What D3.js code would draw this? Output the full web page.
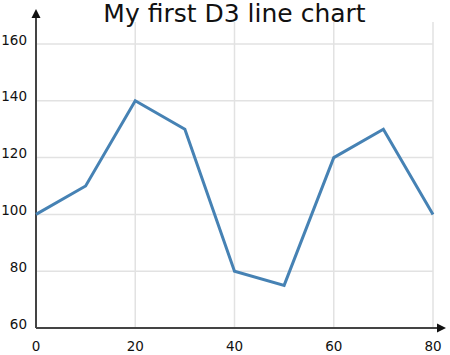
<!DOCTYPE html>
<html><head><meta charset="utf-8">
<script src="https://cdn.jsdelivr.net/npm/d3@7"></script>
<style>body{margin:0;background:#fff}svg{display:block}</style>
</head><body>
<svg id="c" width="450" height="355"></svg>
<script>
const xValues = [0, 10, 20, 30, 40, 50, 60, 70, 80];
const yValues = [100, 110, 140, 130, 80, 75, 120, 130, 100];
const xTicks = [0, 20, 40, 60, 80];
const yTicks = [60, 80, 100, 120, 140, 160];
const title = "My first D3 line chart";

const svg = d3.select("#c");
const x = d3.scaleLinear().domain([0, 80]).range([36, 433]);
const y = d3.scaleLinear().domain([60, 160]).range([328, 44]);
const font = "DejaVu Sans, Verdana, sans-serif";

// grid
svg.append("g").selectAll("line").data(xTicks.filter(d => d > 0)).join("line")
  .attr("x1", d => x(d)).attr("x2", d => x(d)).attr("y1", 22).attr("y2", y(60))
  .attr("stroke", "#e2e2e2").attr("stroke-width", 1.5);
svg.append("g").selectAll("line").data(yTicks.filter(d => d > 60)).join("line")
  .attr("x1", x(0)).attr("x2", x(80)).attr("y1", d => y(d)).attr("y2", d => y(d))
  .attr("stroke", "#e2e2e2").attr("stroke-width", 1.5);

// axes
svg.append("line").attr("x1", x(0)).attr("x2", 440).attr("y1", y(60)).attr("y2", y(60))
  .attr("stroke", "#444").attr("stroke-width", 2);
svg.append("path").attr("d", `M446,${y(60)}L437,${y(60)-4.5}L437,${y(60)+4.5}Z`).attr("fill", "#111");
svg.append("line").attr("x1", x(0)).attr("x2", x(0)).attr("y1", y(60)).attr("y2", 16)
  .attr("stroke", "#444").attr("stroke-width", 2);
svg.append("path").attr("d", `M${x(0)},9L${x(0)-4.5},18L${x(0)+4.5},18Z`).attr("fill", "#111");

// tick labels
svg.append("g").selectAll("text").data(yTicks).join("text")
  .attr("x", 27).attr("y", d => y(d) + 0.5).attr("text-anchor", "end")
  .attr("font-family", font).attr("font-size", 13.5).attr("fill", "#111").text(d => d);
svg.append("g").selectAll("text").data(xTicks).join("text")
  .attr("x", d => x(d)).attr("y", 350.5).attr("text-anchor", "middle")
  .attr("font-family", font).attr("font-size", 13.5).attr("fill", "#111").text(d => d);

// line
const pts = xValues.map((v, i) => [v, yValues[i]]);
svg.append("path").datum(pts)
  .attr("d", d3.line().x(d => x(d[0])).y(d => y(d[1])))
  .attr("fill", "none").attr("stroke", "#4682b4").attr("stroke-width", 3);

// title
svg.append("text").attr("x", (x(0) + x(80)) / 2).attr("y", 22).attr("text-anchor", "middle")
  .attr("font-family", font).attr("font-size", 25).attr("fill", "#111").text(title);
</script>
</body></html>
